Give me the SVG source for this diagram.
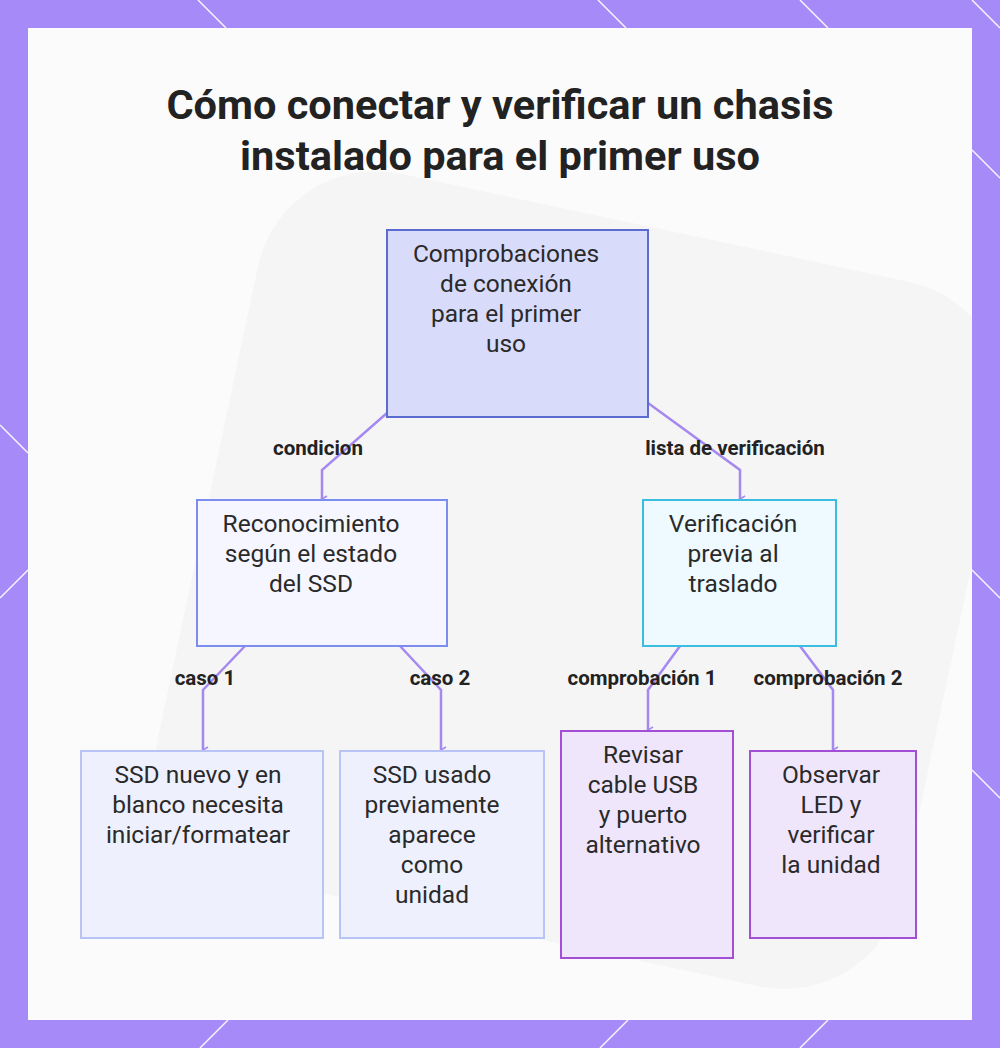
<svg xmlns="http://www.w3.org/2000/svg" width="1000" height="1048" viewBox="0 0 1000 1048">
<defs>
<marker id="ah" markerWidth="8" markerHeight="8" refX="4" refY="6" orient="auto" markerUnits="userSpaceOnUse"><path d="M1,1 L4,6 L7,1" fill="none" stroke="#a689f0" stroke-width="1.5"/></marker>
<clipPath id="cp"><rect x="28" y="28" width="944" height="992"/></clipPath>
</defs>
<style>
.t{font-family:Roboto,"Liberation Sans",sans-serif;font-size:24.5px;fill:#2a2a2a;text-anchor:middle}
.l{font-family:Roboto,"Liberation Sans",sans-serif;font-size:20.5px;font-weight:bold;fill:#222;text-anchor:middle}
.c{fill:none;stroke:#a689f0;stroke-width:2.5}
.b{stroke-width:2}
</style>
<rect width="1000" height="1048" fill="#a68af7"/>
<g stroke="#fff" stroke-width="1.5" fill="none" opacity="0.9">
<path d="M198,0 L226,28 M598,0 L626,28 M800,0 L828,28 M972,150 L1000,178 M0,425 L28,453 M972,570 L1000,598 M0,598 L28,570 M972,770 L1000,798 M200,1048 L228,1020 M600,1048 L628,1020 M800,1048 L828,1020 M972,0 L1000,28"/>
</g>
<rect x="28" y="28" width="944" height="992" fill="#fbfbfc"/>
<g opacity="0.45" clip-path="url(#cp)">
<rect x="200" y="220" width="760" height="720" rx="120" fill="#eeeeef" transform="rotate(12 580 580)"/>
</g>
<text font-family="Roboto,'Liberation Sans',sans-serif" font-size="41.5" font-weight="bold" fill="#222" text-anchor="middle"><tspan x="500" y="119">Cómo conectar y verificar un chasis</tspan><tspan x="500" y="170">instalado para el primer uso</tspan></text>
<g id="connectors">
<path class="c" d="M387,413 L322,470 L322,499" marker-end="url(#ah)"/>
<path class="c" d="M648,403 L740,470 L740,499" marker-end="url(#ah)"/>
<path class="c" d="M245,646 L203,690 L203,750" marker-end="url(#ah)"/>
<path class="c" d="M400,646 L441,690 L441,750" marker-end="url(#ah)"/>
<path class="c" d="M680,646 L648,690 L648,730" marker-end="url(#ah)"/>
<path class="c" d="M800,646 L833,690 L833,750" marker-end="url(#ah)"/>
<text class="l" x="318" y="455">condicion</text>
<text class="l" x="735" y="455">lista de verificación</text>
<text class="l" x="205" y="685">caso 1</text>
<text class="l" x="440" y="685">caso 2</text>
<text class="l" x="642" y="685">comprobación 1</text>
<text class="l" x="828" y="685">comprobación 2</text>
</g>
<g id="root"><rect class="b" x="387" y="230" width="261" height="187" fill="#d9dbfb" stroke="#5b6bd0"/><text class="t"><tspan x="506" y="262">Comprobaciones</tspan><tspan x="506" y="292">de conexión</tspan><tspan x="506" y="322">para el primer</tspan><tspan x="506" y="352">uso</tspan></text></g>
<g id="mid1"><rect class="b" x="197" y="500" width="250" height="146" fill="#f5f6ff" stroke="#7b8ef0"/><text class="t"><tspan x="311" y="532">Reconocimiento</tspan><tspan x="311" y="562">según el estado</tspan><tspan x="311" y="592">del SSD</tspan></text></g>
<g id="mid2"><rect class="b" x="643" y="500" width="193" height="146" fill="#eefaff" stroke="#3bbde0"/><text class="t"><tspan x="733" y="532">Verificación</tspan><tspan x="733" y="562">previa al</tspan><tspan x="733" y="592">traslado</tspan></text></g>
<g id="leaf1"><rect class="b" x="81" y="751" width="242" height="187" fill="#eef0fd" stroke="#b8c4f5"/><text class="t"><tspan x="198" y="783">SSD nuevo y en</tspan><tspan x="198" y="813">blanco necesita</tspan><tspan x="198" y="843">iniciar/formatear</tspan></text></g>
<g id="leaf2"><rect class="b" x="340" y="751" width="204" height="187" fill="#eef0fd" stroke="#b8c4f5"/><text class="t"><tspan x="432" y="783">SSD usado</tspan><tspan x="432" y="813">previamente</tspan><tspan x="432" y="843">aparece</tspan><tspan x="432" y="873">como</tspan><tspan x="432" y="903">unidad</tspan></text></g>
<g id="leaf3"><rect class="b" x="561" y="731" width="172" height="227" fill="#f0e6fb" stroke="#a24fd6"/><text class="t"><tspan x="643" y="763">Revisar</tspan><tspan x="643" y="793">cable USB</tspan><tspan x="643" y="823">y puerto</tspan><tspan x="643" y="853">alternativo</tspan></text></g>
<g id="leaf4"><rect class="b" x="750" y="751" width="166" height="187" fill="#f0e6fb" stroke="#a24fd6"/><text class="t"><tspan x="831" y="783">Observar</tspan><tspan x="831" y="813">LED y</tspan><tspan x="831" y="843">verificar</tspan><tspan x="831" y="873">la unidad</tspan></text></g>
</svg>
